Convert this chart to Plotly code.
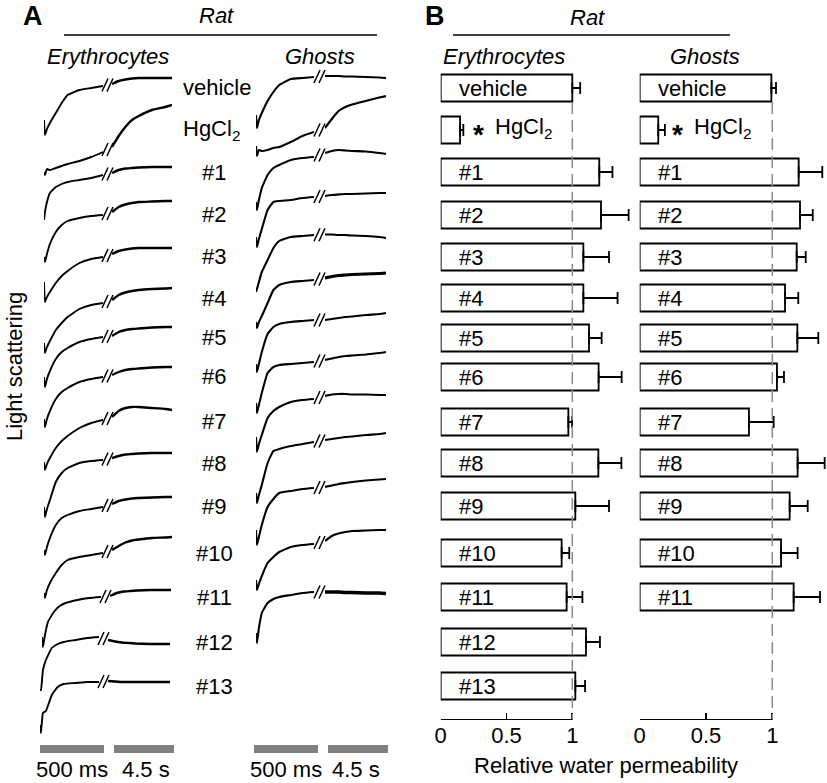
import plotly.graph_objects as go

W, H = 827, 783
FONT = "Liberation Sans, Arial, Helvetica, sans-serif"

# ---------------- Panel A: light-scattering traces (a.u. above initial dip) ----------------
t_fast_ms = [0, 8, 25, 50, 100, 150, 200, 300, 400, 500]
t_slow_s = [0, 0.5, 1, 1.5, 2, 3, 4, 4.5]

trace_labels = ["vehicle", "HgCl<sub>2</sub>", "#1", "#2", "#3", "#4", "#5", "#6",
                "#7", "#8", "#9", "#10", "#11", "#12", "#13"]

ery_fast = [
    [15, 0, 6, 12, 22, 32, 40, 45, 47, 49],      # vehicle
    [3, 0, 6, 5, 7, 9, 11, 14, 18, 23],          # HgCl2
    [0, 8, 18, 27, 33, 36, 38, 40, 42, 45],      # 1
    [5, 0, 8, 18, 30, 37, 41, 44, 46, 47],       # 2
    [20, 0, 5, 10, 19, 26, 31, 39, 43, 45],      # 3
    [10, 0, 6, 12, 23, 30, 36, 44, 48, 50],      # 4
    [10, 0, 8, 16, 28, 35, 39, 45, 48, 50],      # 5
    [8, 0, 8, 16, 28, 35, 39, 45, 48, 50],       # 6
    [8, 0, 6, 12, 22, 29, 34, 42, 47, 50],       # 7
    [10, 0, 8, 17, 35, 44, 49, 54, 56, 57],      # 8
    [5, 0, 8, 17, 30, 37, 40, 44, 46, 48],       # 9
    [5, 0, 8, 15, 25, 33, 38, 41, 43, 45],       # 10
    [10, 0, 12, 25, 35, 41, 44, 47, 49, 50],     # 11
    [0, 0, 20, 30, 42, 46, 48, 50, 52, 53],      # 12
    [8, 0, 20, 22, 38, 46, 49, 50, 51, 51],      # 13
]
ery_slow = [
    [51, 54, 55.5, 56.5, 57, 57, 57, 57],
    [28, 39, 48, 55, 59, 65, 68, 70],
    [47, 50, 51.5, 52, 52.5, 53, 53, 53],
    [50, 55, 57.5, 59, 60, 60.5, 61, 61],
    [48, 51, 52.5, 53.5, 54, 54, 54, 54],
    [53, 58, 60.5, 62, 63, 64, 64.5, 65],
    [51, 55, 57, 58, 58.5, 59.5, 60, 60],
    [52, 55, 57, 58, 58.5, 59.5, 60, 60],
    [53, 59, 62, 63, 63, 62, 61, 60],
    [59, 61, 62.5, 63, 63.5, 64, 64, 64],
    [51, 54, 55.5, 56.5, 57, 57.5, 58, 58],
    [48, 52, 55.5, 57.5, 58.5, 60, 60.5, 61],
    [51, 54, 55.5, 56, 56.5, 57, 57, 57],
    [50, 48.5, 47.5, 47, 46.5, 46, 46, 46],
    [52, 51.5, 51, 51, 51, 51, 51, 51],
]
ghost_fast = [
    [13, 0, 8, 15, 27, 36, 43, 49, 50, 51],      # vehicle
    [10, 0, 6, 5, 6, 8, 9, 14, 20, 24],          # HgCl2
    [8, 0, 10, 22, 35, 42, 45, 50, 52, 53],      # 1
    [10, 0, 8, 18, 37, 45, 46, 47, 49, 50],      # 2
    [0, 3, 10, 20, 32, 44, 51, 55, 56, 57],      # 3
    [6, 0, 6, 12, 25, 38, 43, 46, 47, 48],       # 4
    [8, 0, 8, 20, 38, 45, 48, 50, 51, 52],       # 5
    [10, 0, 8, 20, 40, 46, 48, 49, 50, 51],      # 6
    [15, 0, 8, 17, 34, 41, 45, 50, 52, 53],      # 7
    [10, 0, 8, 18, 40, 52, 54, 57, 59, 61],      # 8
    [15, 0, 8, 20, 38, 46, 52, 54, 56, 57],      # 9
    [10, 0, 6, 14, 27, 33, 38, 43, 45, 46],      # 10
    [10, 0, 15, 30, 40, 44, 46, 48, 50, 51],     # 11
]
ghost_slow = [
    [52, 52, 52, 51.5, 51.5, 51, 50.5, 50],
    [28, 37, 45, 49, 51.5, 55, 58.5, 60],
    [57, 59, 60, 59.5, 59, 58.5, 57, 56],
    [51, 52, 52.5, 53, 53, 53.5, 54, 54],
    [57.5, 57.5, 57, 57, 56.5, 56, 55, 54],
    [50, 51.5, 52.5, 53, 53.5, 54, 54.5, 55],
    [52, 53, 54, 55, 55.5, 57, 58, 59],
    [53, 54.5, 56, 57, 57.5, 58.5, 60, 61],
    [56, 57.5, 58, 58, 57.5, 57.5, 57, 57],
    [63, 64, 65, 66, 66.5, 68, 69, 70],
    [58, 59.5, 61, 62, 63, 64.5, 65.5, 66],
    [49, 54, 56.5, 58, 59, 59.5, 60, 60],
    [51, 51, 51, 50.5, 50.5, 50, 50, 49.5],
]

# ---------------- Panel B: relative water permeability ----------------
bar_labels = ["vehicle", "HgCl2", "#1", "#2", "#3", "#4", "#5", "#6", "#7",
              "#8", "#9", "#10", "#11", "#12", "#13"]
ery_perm = [1.00, 0.147, 1.205, 1.218, 1.084, 1.084, 1.127, 1.200, 0.970,
            1.198, 1.023, 0.919, 0.957, 1.104, 1.023]
ery_sem = [0.060, 0.025, 0.100, 0.210, 0.195, 0.260, 0.096, 0.175, 0.028,
           0.175, 0.256, 0.058, 0.120, 0.106, 0.074]
ghost_perm = [0.993, 0.140, 1.199, 1.209, 1.184, 1.096, 1.189, 1.035, 0.824,
              1.191, 1.131, 1.066, 1.161]
ghost_sem = [0.035, 0.050, 0.178, 0.096, 0.068, 0.100, 0.158, 0.053, 0.186,
             0.204, 0.136, 0.125, 0.199]

# ---------------- layout positions (pixels) ----------------
ery_dip_px = [135, 175, 220, 262, 302, 353, 387, 427, 470, 517, 555, 598, 647, 690, 733]
ery_shift_px = [0] * 12 + [-2, -4, -4]
ghost_dip_px = [128, 156, 210, 247, 292, 328, 372, 413, 452, 503, 545, 590, 643]
row_px = [88, 130, 172, 215, 257, 298, 338, 377, 422, 463, 506, 553, 597, 642, 686]
label_x_px = [217, 211] + [214] * 13
ghost_slow_width = [2.2, 2.2, 2.2, 2.2, 2.2, 3.2, 2.2, 2.2, 2.2, 2.2, 2.2, 2.2, 3.6]


def px(x):
    return x / W


def py(y):
    return 1 - y / H


fig = go.Figure()
line_style = dict(color="black", shape="spline", smoothing=0.4)

shift_axis = {0: ("x", "x2"), -2: ("x7", "x8"), -4: ("x9", "x10")}

for i in range(len(ery_fast)):
    d = ery_dip_px[i]
    xa_f, xa_s = shift_axis[ery_shift_px[i]]
    fig.add_trace(go.Scatter(x=t_fast_ms, y=[d - v for v in ery_fast[i]], xaxis=xa_f, yaxis="y",
                             mode="lines", line=dict(width=1.9, **line_style), hoverinfo="skip"))
    fig.add_trace(go.Scatter(x=t_slow_s, y=[d - v for v in ery_slow[i]], xaxis=xa_s, yaxis="y",
                             mode="lines", line=dict(width=2.4, **line_style), hoverinfo="skip"))
for i in range(len(ghost_fast)):
    d = ghost_dip_px[i]
    fig.add_trace(go.Scatter(x=t_fast_ms, y=[d - v for v in ghost_fast[i]], xaxis="x3", yaxis="y",
                             mode="lines", line=dict(width=2.1, **line_style), hoverinfo="skip"))
    fig.add_trace(go.Scatter(x=t_slow_s, y=[d - v for v in ghost_slow[i]], xaxis="x4", yaxis="y",
                             mode="lines", line=dict(width=ghost_slow_width[i], **line_style),
                             hoverinfo="skip"))

shapes = []
annotations = []


def add_break(cx_list, yc):
    for cx in cx_list:
        shapes.append(dict(type="line", xref="paper", yref="y",
                           x0=px(cx - 3), x1=px(cx + 3), y0=yc + 6.5, y1=yc - 6.5,
                           line=dict(color="black", width=1.5)))


for i in range(len(ery_fast)):
    yc = ery_dip_px[i] - (ery_fast[i][-1] + ery_slow[i][0]) / 2
    s = ery_shift_px[i]
    add_break([105 + s, 110 + s], yc)
for i in range(len(ghost_fast)):
    yc = ghost_dip_px[i] - (ghost_fast[i][-1] + ghost_slow[i][0]) / 2
    add_break([317, 322], yc)

# scale bars
for x0, x1 in [(40, 104), (114, 174), (254, 318), (328, 388)]:
    shapes.append(dict(type="rect", xref="paper", yref="paper", x0=px(x0), x1=px(x1),
                       y0=py(753), y1=py(745), fillcolor="#808080", line=dict(width=0)))

# header lines
for x0, x1 in [(64, 377), (453, 730)]:
    shapes.append(dict(type="line", xref="paper", yref="paper", x0=px(x0), x1=px(x1),
                       y0=py(35), y1=py(35), line=dict(color="black", width=1.5)))


def txt(x, y, s, size=22, **kw):
    d = dict(x=px(x), y=py(y), xref="paper", yref="paper", text=s, showarrow=False,
             font=dict(family=FONT, size=size, color="black"), xanchor="center", yanchor="middle")
    d.update(kw)
    annotations.append(d)


txt(33, 16, "<b>A</b>", size=27)
txt(435, 16, "<b>B</b>", size=27)
txt(217, 16, "<i>Rat</i>")
txt(587, 17, "<i>Rat</i>")
txt(108, 57, "<i>Erythrocytes</i>")
txt(320, 57, "<i>Ghosts</i>")
txt(504, 57, "<i>Erythrocytes</i>")
txt(705, 57, "<i>Ghosts</i>")
txt(14, 367, "Light scattering", textangle=-90)
txt(72, 769, "500 ms")
txt(146, 769, "4.5 s")
txt(286, 769, "500 ms")
txt(356, 769, "4.5 s")
txt(606, 765, "Relative water permeability")

for i, lab in enumerate(trace_labels):
    txt(label_x_px[i], row_px[i], lab)

# ---------------- bars ----------------
bar_common = dict(orientation="h", width=27, marker=dict(color="white", line=dict(color="black", width=1.8)),
                  hoverinfo="skip", yaxis="y2")
fig.add_trace(go.Bar(x=ery_perm, y=row_px[:len(ery_perm)], xaxis="x5", base=0,
                     error_x=dict(type="data", array=ery_sem, arrayminus=[0] * len(ery_sem),
                                  symmetric=False, color="black", thickness=1.8, width=6),
                     **bar_common))
fig.add_trace(go.Bar(x=ghost_perm, y=row_px[:len(ghost_perm)], xaxis="x6", base=0,
                     error_x=dict(type="data", array=ghost_sem, arrayminus=[0] * len(ghost_sem),
                                  symmetric=False, color="black", thickness=1.8, width=6),
                     **bar_common))

for xa, n in [("x5", len(ery_perm)), ("x6", len(ghost_perm))]:
    for i in range(n):
        lab = bar_labels[i]
        if lab == "HgCl2":
            annotations.append(dict(x=0.285, y=row_px[i], xref=xa, yref="y2", text="<b>*</b>",
                                    showarrow=False, yshift=-4,
                                    font=dict(family=FONT, size=28, color="black")))
            annotations.append(dict(x=0.395, y=row_px[i] - 2, xref=xa, yref="y2",
                                    text="HgCl<sub>2</sub>", showarrow=False, xanchor="left",
                                    font=dict(family=FONT, size=22, color="black")))
        else:
            annotations.append(dict(x=0.125, y=row_px[i], xref=xa, yref="y2", text=lab,
                                    showarrow=False, xanchor="left",
                                    font=dict(family=FONT, size=22, color="black")))
    # reference line at 1 and axis line 0..1
    shapes.append(dict(type="line", xref=xa, yref="y2", x0=1, x1=1, y0=102, y1=720,
                       line=dict(color="#8c8c8c", width=1.5, dash="12px,6px")))
    shapes.append(dict(type="line", xref=xa, yref="y2", x0=0, x1=1, y0=720, y1=720,
                       line=dict(color="black", width=1.8)))

hidden = dict(visible=False, fixedrange=True)
axis_b = dict(showline=False, showgrid=False, zeroline=False, ticks="inside", ticklen=7,
              tickwidth=1.8, tickcolor="black", tickvals=[0, 0.5, 1], ticktext=["0", "0.5", "1"],
              tickfont=dict(family=FONT, size=22, color="black"), anchor="y2", automargin=False,
              fixedrange=True)

fig.update_layout(
    width=W, height=H, margin=dict(l=0, r=0, t=0, b=0),
    paper_bgcolor="white", plot_bgcolor="rgba(0,0,0,0)", showlegend=False,
    xaxis=dict(domain=[px(44), px(103)], range=[0, 500], anchor="y", **hidden),
    xaxis2=dict(domain=[px(112), px(172)], range=[0, 4.5], anchor="y", **hidden),
    xaxis7=dict(domain=[px(42), px(101)], range=[0, 500], anchor="y", **hidden),
    xaxis8=dict(domain=[px(110), px(171)], range=[0, 4.5], anchor="y", **hidden),
    xaxis9=dict(domain=[px(40), px(99)], range=[0, 500], anchor="y", **hidden),
    xaxis10=dict(domain=[px(108), px(170)], range=[0, 4.5], anchor="y", **hidden),
    xaxis3=dict(domain=[px(256), px(314)], range=[0, 500], anchor="y", **hidden),
    xaxis4=dict(domain=[px(325), px(386)], range=[0, 4.5], anchor="y", **hidden),
    yaxis=dict(domain=[0, 1], range=[H, 0], anchor="x", **hidden),
    xaxis5=dict(domain=[px(440.7), px(638.1)], range=[0, 1.5], **axis_b),
    xaxis6=dict(domain=[px(639.7), px(826)], range=[0, 1.405], **axis_b),
    yaxis2=dict(domain=[py(720), 1], range=[720, 0], anchor="x5", visible=False, fixedrange=True),
    shapes=shapes, annotations=annotations, bargap=0,
)

fig.write_html("out.html", config={"displayModeBar": False, "staticPlot": True},
               post_script="document.body.style.margin='0';")
